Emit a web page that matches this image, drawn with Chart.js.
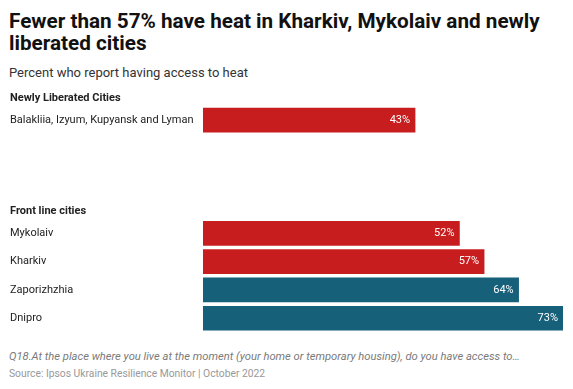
<!DOCTYPE html>
<html>
<head>
<meta charset="utf-8">
<script src="https://cdn.jsdelivr.net/npm/chart.js@4"></script>
<style>
  body { margin: 0; background: #fff; font-family: Roboto, sans-serif; }
  #wrap { position: relative; width: 573px; height: 389px; overflow: hidden; }
  #title { position: absolute; left: 9px; top: 10px; width: 550px; font-size: 20.7px; font-weight: bold; line-height: 22px; color: #111; }
  #subtitle { position: absolute; left: 9px; top: 65px; font-size: 13px; line-height: 15px; color: #333; }
  #note { position: absolute; left: 9px; top: 350px; font-size: 11.2px; font-style: italic; line-height: 13px; color: #7a7a7a; }
  #source { position: absolute; left: 9px; top: 368px; font-size: 10.3px; line-height: 12px; color: #999; }
  #box { position: absolute; left: 0; top: 71px; width: 573px; height: 268px; }
</style>
</head>
<body>
<div id="wrap">
  <div id="title">Fewer than 57% have heat in Kharkiv, Mykolaiv and newly liberated cities</div>
  <div id="subtitle">Percent who report having access to heat</div>
  <div id="box"><canvas id="heatChart"></canvas></div>
  <div id="note">Q18.At the place where you live at the moment (your home or temporary housing), do you have access to…</div>
  <div id="source">Source: Ipsos Ukraine Resilience Monitor | October 2022</div>
</div>
<script>
// rows; blank rows separate the two groups
var cities = ["Balakliia, Izyum, Kupyansk and Lyman", "", "", "", "Mykolaiv", "Kharkiv", "Zaporizhzhia", "Dnipro"];
var heatShare = [43, null, null, null, 52, 57, 64, 73];
var barColors = ["#c81d1e", null, null, null, "#c81d1e", "#c81d1e", "#17607a", "#17607a"];
var groupNames = ["Newly Liberated Cities", "Front line cities"];
var groupFirstRow = [0, 4];

// bold group headers above the first bar of each group
var groupHeaders = {
  id: "groupHeaders",
  afterDraw: function (chart) {
    var ctx = chart.ctx;
    var y = chart.scales.y;
    ctx.save();
    ctx.font = "bold 11px Roboto";
    ctx.fillStyle = "#222";
    ctx.textAlign = "left";
    ctx.textBaseline = "alphabetic";
    for (var i = 0; i < groupNames.length; i++) {
      ctx.fillText(groupNames[i], 10, y.getPixelForValue(groupFirstRow[i]) - 19.5);
    }
    ctx.restore();
  }
};

// percent labels inside the bar ends
var valueLabels = {
  id: "valueLabels",
  afterDatasetsDraw: function (chart) {
    var ctx = chart.ctx;
    var meta = chart.getDatasetMeta(0);
    ctx.save();
    ctx.font = "11px Roboto";
    ctx.fillStyle = "#fff";
    ctx.textAlign = "right";
    ctx.textBaseline = "middle";
    meta.data.forEach(function (bar, i) {
      if (heatShare[i] === null) return;
      ctx.fillText(heatShare[i] + "%", bar.x - 5, bar.y);
    });
    ctx.restore();
  }
};

new Chart(document.getElementById("heatChart"), {
  type: "bar",
  data: {
    labels: cities,
    datasets: [
      {
        data: heatShare,
        backgroundColor: barColors,
        barThickness: 24,
      },
    ],
  },
  options: {
    indexAxis: "y",
    responsive: true,
    maintainAspectRatio: false,
    animation: false,
    layout: { padding: { left: 10, right: 10, top: 35, bottom: 0 } },
    plugins: {
      legend: { display: false },
      tooltip: { enabled: false },
    },
    scales: {
      x: {
        display: false,
        min: 0,
        max: 73,
      },
      y: {
        grid: { display: false, drawTicks: false },
        border: { display: false },
        ticks: {
          crossAlign: "far",
          color: "#222",
          font: { family: "Roboto", size: 11 },
          padding: 0,
        },
        afterFit: function (scale) {
          scale.width = 193;
        },
      },
    },
  },
  plugins: [groupHeaders, valueLabels],
});
</script>
</body>
</html>
